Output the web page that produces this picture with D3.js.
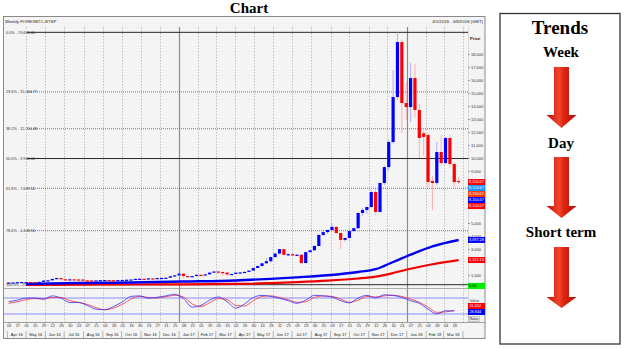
<!DOCTYPE html>
<html>
<head>
<meta charset="utf-8">
<script src="https://cdnjs.cloudflare.com/ajax/libs/d3/7.8.5/d3.min.js"></script>
<style>
body { margin: 0; background: #fff; }
svg { display: block; }
</style>
</head>
<body>
<script>
// ---- data ----
// weekly candles, one per Sunday from 3 Apr 2016 to 25 Mar 2018
var weeks = d3.timeSunday.range(new Date(2016, 3, 3), new Date(2018, 2, 26));

var opens  = [416,421,428,449,456,459,455,442,472,572,590,695,765,670,660,668,658,652,590,585,
              575,580,605,612,605,600,608,616,638,655,705,712,705,742,735,765,775,790,900,975,
              1100,920,890,915,1015,1000,1050,1180,1270,1230,1180,1040,1080,1180,1200,1240,1340,1540,1690,1900,
              2060,2380,2650,2990,2550,2600,2500,2560,1920,2760,2900,3230,4080,4300,4460,4700,4230,3700,3850,4380,
              4600,5770,6000,6230,7380,5850,8080,9300,11230,14690,18920,14230,13920,16150,13690,11900,11770,8230,8080,10460,
              9615,11540,9540,8230];
var highs  = [425,432,452,468,462,462,458,478,580,605,720,780,770,690,680,680,665,655,600,590,
              590,610,625,614,610,610,620,640,660,720,740,720,750,745,770,780,795,930,1000,1150,
              1120,940,925,1020,1050,1060,1200,1280,1330,1260,1200,1100,1190,1220,1260,1350,1560,1720,1930,2300,
              2400,2700,3000,3020,2680,2650,2620,2600,2800,2950,3300,4150,4400,4480,4980,4750,4250,3900,4420,4650,
              5850,6150,6250,7500,7600,8100,9400,11400,16770,19666,19100,15800,17300,17200,14200,12100,11900,8600,11230,11770,
              11600,11770,9700,8540];
var lows   = [412,418,425,440,440,446,435,438,468,565,585,680,560,640,645,650,640,520,570,565,
              570,570,600,600,595,597,605,612,630,650,680,690,700,725,730,760,770,785,880,950,
              750,860,880,910,940,990,1045,1170,1100,950,900,1020,1070,1150,1190,1230,1330,1530,1680,1850,
              1900,2300,2600,2450,2450,2480,2470,1850,1900,2700,2850,3200,4000,4150,4400,4150,3000,3550,3800,4300,
              4550,5550,5700,6150,5620,5800,7900,9000,11100,14500,11920,12920,12770,13150,10000,10200,7800,6000,7900,9400,
              9500,9300,7770,8000];
var closes = [421,428,449,456,459,455,442,472,572,590,695,765,670,660,668,658,652,590,585,575,
              580,605,612,605,600,608,616,638,655,705,712,705,742,735,765,775,790,900,975,1100,
              920,890,915,1015,1000,1050,1180,1270,1230,1180,1040,1080,1180,1200,1240,1340,1540,1690,1900,2060,
              2380,2650,2990,2550,2600,2500,2560,1920,2760,2900,3230,4080,4300,4460,4700,4230,3700,3850,4380,4600,
              5770,6000,6230,7380,5850,8080,9300,11230,14690,18920,14230,13920,16150,13690,11540,11620,8150,8080,10460,9615,
              11540,9540,8150,8150];

// moving averages, read at these week indexes
var maIdx  = [4, 16, 28, 40, 52, 60, 66, 73, 80, 84, 88, 92, 97, 103];
var maBlue = [310, 385, 420, 495, 580, 700, 820, 980, 1230, 1450, 2000, 2560, 3200, 3690];
var maRed  = [230, 250, 270, 285, 310, 380, 450, 560, 730, 880, 1150, 1480, 1830, 2150];

// oscillator, one value every second week
var oscBlue = [66,72,80,80,76,88,80,63,63,52,38,36,48,65,86,88,79,83,88,94,
               78,46,52,72,84,66,42,58,82,90,86,79,70,60,72,90,88,84,70,62,
               80,90,80,92,90,82,70,60,38,20,32,32];
var oscRed  = [60,66,74,78,76,82,82,70,64,56,44,36,42,56,76,86,82,80,85,90,
               84,58,48,62,78,74,52,50,70,86,88,82,74,64,66,82,88,86,76,64,
               72,86,84,88,90,86,76,64,46,26,28,32];
var oscLevels = [80, 20];

// fibonacci retracement levels
var fibPct  = ["0.0%", "23.6%", "38.2%", "50.0%", "61.8%", "78.6%", "100.0%"];
var fibVals = [19666.00, 15084.77, 12250.48, 9960.00, 7669.52, 4408.54, 254.00];

// price axis (labels hidden under the value boxes are left out)
var priceTicks = [1000,3000,4000,5000,9000,10000,11000,12000,13000,14000,15000,16000,17000,18000];

// value boxes on the right axis
var boxTexts  = ["8,150.67", "8,150.67", "8,150.67", "8,150.67", "8,150.67", "3,697.28", "2,152.13", "0.00"];
var boxVals   = [8150, 8150, 8150, 8150, 8150, 3697, 2152, 160];
var boxColors = ["#ff0000", "#1e90ff", "#ff3c00", "#0000ff", "#ff0000", "#0000ff", "#ff0000", "#00ee00"];
var oscBoxTexts  = ["31.652", "28.844"];
var oscBoxColors = ["#ff0000", "#0000ff"];

var monthLabels = ["Apr 16","May 16","Jun 16","Jul 16","Aug 16","Sep 16","Oct 16","Nov 16","Dec 16",
                   "Jan 17","Feb 17","Mar 17","Apr 17","May 17","Jun 17","Jul 17","Aug 17","Sep 17",
                   "Oct 17","Nov 17","Dec 17","Jan 18","Feb 18","Mar 18"];

var trendLabels = ["Week", "Day", "Short term"];

// ---- layout ----
var W = 625, H = 349;
var plotL = 3, plotR = 468, axisR = 485;
var priceTop = 27, priceBot = 287;
var oscTop = 288, oscBot = 322;
var small = "'Liberation Sans', Arial, sans-serif";
var serif = "'Liberation Serif', 'Times New Roman', serif";

var svg = d3.select("body").append("svg")
    .attr("width", W)
    .attr("height", H);

var x = d3.scaleTime()
    .domain([new Date(2016, 2, 25), new Date(2018, 3, 9)])
    .range([plotL, plotR]);

var y = d3.scaleLinear()
    .domain([0, 20000])
    .range([288, 28]);

var yo = d3.scaleLinear()
    .domain([0, 100])
    .range([319.3, 292.7]);

// title
svg.append("text")
    .attr("x", 249)
    .attr("y", 12.5)
    .attr("text-anchor", "middle")
    .style("font-family", serif)
    .style("font-weight", "bold")
    .style("font-size", "15px")
    .text("Chart");

// frame
svg.append("rect")
    .attr("x", 3.5).attr("y", 16.5)
    .attr("width", axisR - 3.5).attr("height", 322)
    .attr("fill", "#f4f4f4")
    .attr("stroke", "#8a8a8a");

svg.append("text")
    .attr("x", 5).attr("y", 23)
    .style("font-family", small).style("font-size", "4.3px").attr("fill", "#222")
    .text("Weekly FOREXBTC-BTSP");
svg.append("text")
    .attr("x", 483).attr("y", 23)
    .attr("text-anchor", "end")
    .style("font-family", small).style("font-size", "4.3px").attr("fill", "#222")
    .text("4/1/2018 - 4/8/2018 (GMT)");

// month grid lines
var months = d3.timeMonth.range(new Date(2016, 3, 1), new Date(2018, 3, 2));
svg.selectAll(".vgrid")
    .data(months.filter(function(d){ return x(d) > 10; }))
    .enter().append("line")
    .attr("class", "vgrid")
    .attr("x1", function(d){ return Math.round(x(d)) + 0.5; })
    .attr("x2", function(d){ return Math.round(x(d)) + 0.5; })
    .attr("y1", priceTop)
    .attr("y2", oscBot)
    .attr("stroke", function(d){ return d.getMonth() == 0 ? "#8c8c8c" : "#b4b4b4"; })
    .attr("stroke-width", function(d){ return d.getMonth() == 0 ? 1.2 : 0.8; })
    .attr("stroke-dasharray", function(d){ return d.getMonth() == 0 ? null : "1.5,1.5"; });

// panel separators
svg.append("line")
    .attr("x1", plotL).attr("x2", axisR)
    .attr("y1", oscTop + 0.5).attr("y2", oscTop + 0.5)
    .attr("stroke", "#9a9a9a").attr("stroke-width", 0.8);
svg.append("line")
    .attr("x1", plotL).attr("x2", axisR)
    .attr("y1", oscBot + 0.5).attr("y2", oscBot + 0.5)
    .attr("stroke", "#8a8a8a").attr("stroke-width", 0.8);
svg.append("line")
    .attr("x1", plotR + 0.5).attr("x2", plotR + 0.5)
    .attr("y1", priceTop).attr("y2", oscBot)
    .attr("stroke", "#c8c8c8").attr("stroke-width", 0.6);

// fibonacci lines with labels
var fib = svg.selectAll(".fib")
    .data(fibVals)
    .enter().append("g")
    .attr("class", "fib");
fib.append("line")
    .attr("x1", 27)
    .attr("x2", plotR)
    .attr("y1", function(d){ return y(d); })
    .attr("y2", function(d){ return y(d); })
    .attr("stroke", function(d, i){ return (i == 0 || i == 3 || i == 6) ? "#111" : "#555"; })
    .attr("stroke-width", function(d, i){ return (i == 0 || i == 3 || i == 6) ? 0.9 : 0.8; })
    .attr("stroke-dasharray", function(d, i){ return (i == 0 || i == 3 || i == 6) ? null : "1,1"; });
fib.append("rect")
    .attr("x", 5)
    .attr("y", function(d){ return y(d) - 2.5; })
    .attr("width", 22).attr("height", 5)
    .attr("fill", "#f4f4f4");
fib.append("text")
    .attr("x", 6)
    .attr("y", function(d){ return y(d) + 1.4; })
    .style("font-family", small).style("font-size", "3.8px").attr("fill", "#333")
    .text(function(d, i){ return fibPct[i] + " - " + d3.format(",.2f")(d); });

// moving averages
var maLine = d3.line()
    .x(function(d){ return x(weeks[d[0]]); })
    .y(function(d){ return y(d[1]); })
    .curve(d3.curveMonotoneX);
svg.append("path")
    .datum(maIdx.map(function(d, i){ return [d, maRed[i]]; }))
    .attr("d", maLine)
    .attr("fill", "none").attr("stroke", "#ee0000").attr("stroke-width", 2.2);
svg.append("path")
    .datum(maIdx.map(function(d, i){ return [d, maBlue[i]]; }))
    .attr("d", maLine)
    .attr("fill", "none").attr("stroke", "#0000ee").attr("stroke-width", 2.4);

// candles
var candle = svg.selectAll(".candle")
    .data(weeks)
    .enter().append("g")
    .attr("class", "candle");
candle.append("line")
    .attr("x1", function(d){ return x(d); })
    .attr("x2", function(d){ return x(d); })
    .attr("y1", function(d, i){ return y(highs[i]); })
    .attr("y2", function(d, i){ return y(lows[i]); })
    .attr("stroke", function(d, i){ return closes[i] >= opens[i] ? "#a8a8ff" : "#ffa8a8"; })
    .attr("stroke-width", 0.9);
candle.append("rect")
    .attr("x", function(d){ return x(d) - 1.6; })
    .attr("width", 3.2)
    .attr("y", function(d, i){ return y(Math.max(opens[i], closes[i])); })
    .attr("height", function(d, i){ return Math.max(1.2, Math.abs(y(opens[i]) - y(closes[i]))); })
    .attr("fill", function(d, i){ return closes[i] >= opens[i] ? "#0000ff" : "#ff0000"; });

// price axis
var yAxis = svg.append("g")
    .attr("transform", "translate(" + plotR + ",0)")
    .call(d3.axisRight(y).tickValues(priceTicks).tickSize(2).tickPadding(1).tickFormat(d3.format(",")));
yAxis.select(".domain").remove();
yAxis.selectAll("line").attr("stroke", "#555").attr("stroke-width", 0.5);
yAxis.selectAll("text").style("font-family", small).style("font-size", "4px").attr("fill", "#333");
svg.append("text")
    .attr("x", 470).attr("y", 40)
    .style("font-family", small).style("font-size", "4.3px").style("font-weight", "bold").attr("fill", "#222")
    .text("Price");

// value boxes (stacked when they collide)
var lastY = -100;
boxVals.forEach(function(v, i){
    var cy = Math.max(y(v), lastY + 6);
    lastY = cy;
    svg.append("rect")
        .attr("x", plotR).attr("y", cy - 3)
        .attr("width", axisR - plotR).attr("height", 6)
        .attr("fill", boxColors[i]);
    svg.append("text")
        .attr("x", plotR + 1).attr("y", cy + 1.4)
        .style("font-family", small).style("font-size", "3.8px")
        .attr("fill", boxColors[i] == "#00ee00" ? "#000" : "#fff")
        .text(boxTexts[i]);
});

// oscillator
oscLevels.forEach(function(v){
    svg.append("line")
        .attr("x1", plotL).attr("x2", plotR)
        .attr("y1", yo(v)).attr("y2", yo(v))
        .attr("stroke", "#8080ff").attr("stroke-width", 0.9);
});
var oscWeeks = weeks.filter(function(d, i){ return i % 2 == 0; });
var oscLine = d3.line()
    .x(function(d, i){ return x(oscWeeks[i]); })
    .y(function(d){ return yo(d); })
    .curve(d3.curveMonotoneX);
svg.append("path").datum(oscRed).attr("d", oscLine)
    .attr("fill", "none").attr("stroke", "#ff3030").attr("stroke-width", 0.8);
svg.append("path").datum(oscBlue).attr("d", oscLine)
    .attr("fill", "none").attr("stroke", "#3030ff").attr("stroke-width", 0.8);

svg.append("text")
    .attr("x", 470).attr("y", 302)
    .style("font-family", small).style("font-size", "3.8px").attr("fill", "#333")
    .text("Value");
oscBoxTexts.forEach(function(t, i){
    svg.append("rect")
        .attr("x", plotR).attr("y", 303 + i * 6)
        .attr("width", axisR - plotR).attr("height", 6)
        .attr("fill", oscBoxColors[i]);
    svg.append("text")
        .attr("x", plotR + 1.5).attr("y", 307.4 + i * 6)
        .style("font-family", small).style("font-size", "3.8px").attr("fill", "#fff")
        .text(t);
});
svg.append("rect")
    .attr("x", plotR + 0.5).attr("y", 316.5)
    .attr("width", 11).attr("height", 5)
    .attr("fill", "#e8e8e8").attr("stroke", "#888").attr("stroke-width", 0.4);
svg.append("text")
    .attr("x", plotR + 1.5).attr("y", 320.3)
    .style("font-family", small).style("font-size", "3.6px").attr("fill", "#222")
    .text("Ratio");

// time axis: week days and months
var xAxis = svg.append("g")
    .attr("transform", "translate(0," + (oscBot + 0.5) + ")")
    .call(d3.axisBottom(x).tickValues(oscWeeks).tickSize(1.5).tickPadding(0.5).tickFormat(d3.timeFormat("%d")));
xAxis.select(".domain").remove();
xAxis.selectAll("line").attr("stroke", "#666").attr("stroke-width", 0.5);
xAxis.selectAll("text").style("font-family", small).style("font-size", "4px").attr("fill", "#333");

svg.selectAll(".msep")
    .data(months)
    .enter().append("line")
    .attr("class", "msep")
    .attr("x1", function(d){ return x(d); })
    .attr("x2", function(d){ return x(d); })
    .attr("y1", 331).attr("y2", 338)
    .attr("stroke", "#777").attr("stroke-width", 0.5);
svg.selectAll(".mlab")
    .data(monthLabels)
    .enter().append("text")
    .attr("class", "mlab")
    .attr("x", function(d, i){ return (x(months[i]) + x(months[i + 1])) / 2; })
    .attr("y", 336)
    .attr("text-anchor", "middle")
    .style("font-family", small).style("font-size", "4px").attr("fill", "#222")
    .text(function(d){ return d; });

// ---- trends panel ----
var defs = svg.append("defs");
var grad = defs.append("linearGradient")
    .attr("id", "arrowGrad")
    .attr("x1", "0%").attr("x2", "100%").attr("y1", "0%").attr("y2", "0%");
grad.append("stop").attr("offset", "0%").attr("stop-color", "#c01004");
grad.append("stop").attr("offset", "42%").attr("stop-color", "#f2442a");
grad.append("stop").attr("offset", "58%").attr("stop-color", "#de2412");
grad.append("stop").attr("offset", "100%").attr("stop-color", "#b00c02");

svg.append("rect")
    .attr("x", 500).attr("y", 13.5)
    .attr("width", 120).attr("height", 330.5)
    .attr("fill", "#fff")
    .attr("stroke", "#333").attr("stroke-width", 1.3);

svg.append("text")
    .attr("x", 560).attr("y", 34)
    .attr("text-anchor", "middle")
    .style("font-family", serif).style("font-weight", "bold").style("font-size", "19px")
    .text("Trends");

var labelY = [57, 148, 237];
var arrows = [[67, 115, 128], [157, 206, 218], [247, 297, 308]];
trendLabels.forEach(function(t, i){
    svg.append("text")
        .attr("x", 561).attr("y", labelY[i])
        .attr("text-anchor", "middle")
        .style("font-family", serif).style("font-weight", "bold").style("font-size", "15px")
        .text(t);
    var a = arrows[i], cx = 561.5;
    svg.append("polygon")
        .attr("points", [[cx - 7.5, a[0]], [cx + 7.5, a[0]], [cx + 7.5, a[1]], [cx + 15, a[1]],
                         [cx, a[2]], [cx - 15, a[1]], [cx - 7.5, a[1]]].join(" "))
        .attr("fill", "url(#arrowGrad)");
});
</script>
</body>
</html>
